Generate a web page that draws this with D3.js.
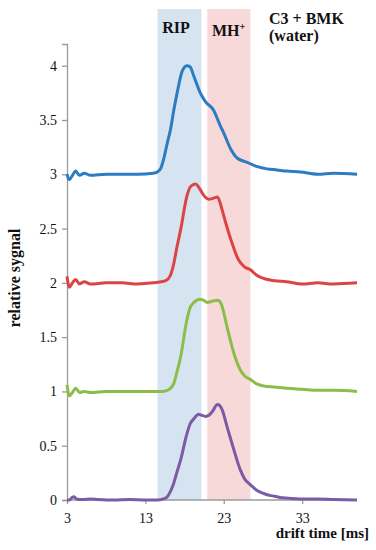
<!DOCTYPE html>
<html lang="en">
  <head>
    <meta charset="UTF-8" />
    <title>Drift time spectra</title>
    <script src="https://d3js.org/d3.v7.min.js"></script>
    <style>
      body {
        margin: 0;
        background: #fff;
      }
      svg text {
        font-family: 'Liberation Serif', 'DejaVu Serif', 'Times New Roman', serif !important;
      }
    </style>
  </head>
  <body>
    <svg width="376" height="550"></svg>
    <script>
      // spectra, drift time [ms] -> relative signal (offset already included)
      const blueT = [3, 3.3, 3.7, 4.1, 4.6, 5.2, 6, 8, 10, 12, 14, 14.5, 15, 15.3, 15.8, 16.2, 16.6, 17.05, 17.7, 18.3, 18.7, 19.2, 20, 20.66, 21.7, 22.6, 23, 23.9, 24.7, 26, 27.3, 28.5, 29.8, 31, 32.8, 35, 37, 40];
      const blueV = [3.0, 2.95, 2.99, 3.03, 2.99, 3.01, 2.99, 3.0, 3.0, 3.0, 3.01, 3.02, 3.06, 3.13, 3.29, 3.41, 3.58, 3.75, 3.95, 4.0, 3.99, 3.9, 3.75, 3.67, 3.59, 3.44, 3.38, 3.23, 3.15, 3.11, 3.07, 3.05, 3.04, 3.03, 3.02, 3.0, 3.01, 3.0];

      const redT = [3, 3.3, 3.7, 4.1, 4.6, 5.2, 6, 8, 10, 12, 14, 15, 15.6, 16.2, 16.6, 17, 17.5, 18.3, 18.8, 19.4, 19.9, 20.4, 21.1, 21.7, 22.2, 22.8, 23.3, 23.9, 24.9, 25.6, 26.4, 27.2, 28.1, 29.5, 31, 33, 35, 37, 40];
      const redV = [2.06, 1.96, 2.0, 2.03, 1.99, 2.01, 1.99, 2.0, 2.0, 1.99, 2.0, 2.01, 2.02, 2.07, 2.17, 2.32, 2.49, 2.8, 2.89, 2.91, 2.87, 2.81, 2.77, 2.78, 2.79, 2.67, 2.54, 2.4, 2.21, 2.15, 2.12, 2.07, 2.04, 2.02, 2.01, 1.99, 2.0, 1.99, 2.0];

      const greenT = [3, 3.3, 3.7, 4.1, 4.6, 5.2, 6, 8, 10, 12, 14, 15, 15.8, 16.2, 16.6, 17, 17.5, 18.3, 18.7, 19.2, 19.9, 20.4, 20.9, 21.5, 22.2, 22.5, 22.8, 23.4, 24.3, 25.1, 25.7, 26.4, 27.2, 28.1, 29.5, 31, 33, 35, 37, 40];
      const greenV = [1.06, 0.96, 0.99, 1.03, 0.99, 1.0, 0.99, 1.0, 1.0, 1.0, 1.0, 1.0, 1.01, 1.03, 1.07, 1.17, 1.32, 1.66, 1.77, 1.82, 1.85, 1.84, 1.82, 1.83, 1.84, 1.83, 1.78, 1.6, 1.35, 1.2, 1.14, 1.11, 1.07, 1.05, 1.04, 1.03, 1.02, 1.01, 1.01, 1.0];

      const purpleT = [3, 3.3, 3.6, 3.9, 4.2, 5, 6, 7, 9, 11, 13, 14.5, 15.3, 15.8, 16.2, 16.6, 17, 17.5, 18.3, 18.7, 19.2, 19.8, 20.2, 20.7, 21.1, 21.5, 22.2, 22.5, 22.8, 23.4, 24.3, 25.1, 25.7, 26.4, 27.2, 28.1, 29, 29.8, 30.5, 32.8, 35, 37, 40];
      const purpleV = [0.0, 0.0, 0.02, 0.03, 0.01, 0.005, 0.01, 0.005, 0.0, 0.005, 0.0, 0.0, 0.01, 0.03, 0.08, 0.15, 0.25, 0.37, 0.61, 0.7, 0.75, 0.79, 0.78, 0.77, 0.78, 0.81, 0.88, 0.87, 0.83, 0.68, 0.46, 0.28, 0.19, 0.14, 0.09, 0.06, 0.04, 0.03, 0.02, 0.01, 0.01, 0.005, 0.0];

      const seriesNames = ['blue', 'red', 'green', 'purple'];
      const seriesColors = ['#2b7cc0', '#dc4444', '#8cbd48', '#7c5ba5'];
      const seriesT = [blueT, redT, greenT, purpleT];
      const seriesV = [blueV, redV, greenV, purpleV];

      // shaded windows: RIP and MH+
      const bandNames = ['RIP', 'MH⁺'];
      const bandStart = [14.55, 20.9];
      const bandEnd = [20.15, 26.4];
      const bandColors = ['#d6e4f2', '#f8d9da'];

      const xTicks = [3, 13, 23, 33];
      const yTicks = [0, 0.5, 1, 1.5, 2, 2.5, 3, 3.5, 4];

      const margin = { top: 44, right: 19, bottom: 50, left: 67 };
      const width = 376;
      const height = 550;
      const svg = d3.select('svg');

      const x = d3
        .scaleLinear()
        .domain([3, 40])
        .range([margin.left, width - margin.right]);
      const y = d3
        .scaleLinear()
        .domain([0, 4.2])
        .range([height - margin.bottom, margin.top]);

      // bands
      svg
        .append('g')
        .selectAll('rect')
        .data(bandNames)
        .join('rect')
        .attr('x', (d, i) => x(bandStart[i]))
        .attr('width', (d, i) => x(bandEnd[i]) - x(bandStart[i]))
        .attr('y', 9)
        .attr('height', y(0) - 9)
        .attr('fill', (d, i) => bandColors[i]);

      // axes
      const yAxis = svg
        .append('g')
        .attr('transform', `translate(${margin.left},0)`)
        .call(
          d3.axisLeft(y).tickValues(yTicks).tickSize(5).tickPadding(5).tickFormat(d3.format('')),
        );
      const xAxis = svg
        .append('g')
        .attr('transform', `translate(0,${y(0)})`)
        .call(d3.axisBottom(x).tickValues(xTicks).tickSize(4).tickPadding(9));

      [yAxis, xAxis].forEach((a) => {
        a.attr('font-family', null);
        a.select('.domain').attr('stroke', '#9a9a9a').attr('stroke-width', 1.3);
        a.selectAll('.tick line').attr('stroke', '#9a9a9a').attr('stroke-width', 1.3);
        a.selectAll('.tick text').attr('font-size', 14).attr('fill', '#111');
      });
      xAxis.select('.domain').attr('d', `M${x(3)},0H${x(40)}`);

      // spectra
      const line = d3
        .line()
        .x((d) => x(d[0]))
        .y((d) => y(d[1]))
        .curve(d3.curveMonotoneX);

      svg
        .append('g')
        .selectAll('path')
        .data(seriesNames)
        .join('path')
        .attr('d', (d, i) => line(d3.zip(seriesT[i], seriesV[i])))
        .attr('fill', 'none')
        .attr('stroke', (d, i) => seriesColors[i])
        .attr('stroke-width', 3)
        .attr('stroke-linejoin', 'round');

      // labels
      const label = (txt, px, py, anchor) =>
        svg
          .append('text')
          .attr('x', px)
          .attr('y', py)
          .attr('text-anchor', anchor || 'start')
          .attr('font-weight', 'bold')
          .attr('font-size', 16)
          .attr('fill', '#111')
          .text(txt);

      label('RIP', 176, 33, 'middle');
      label('MH', 212, 36).append('tspan').attr('dy', -6).attr('font-size', 10).text('+');
      label('C3 + BMK', 269, 24);
      label('(water)', 269, 41);

      label('drift time [ms]', 369, 538, 'end').attr('font-size', 15);
      svg
        .append('text')
        .attr('transform', 'translate(20,278) rotate(-90)')
        .attr('text-anchor', 'middle')
        .attr('font-weight', 'bold')
        .attr('font-size', 16)
        .attr('fill', '#111')
        .text('relative sygnal');
    </script>
  </body>
</html>
